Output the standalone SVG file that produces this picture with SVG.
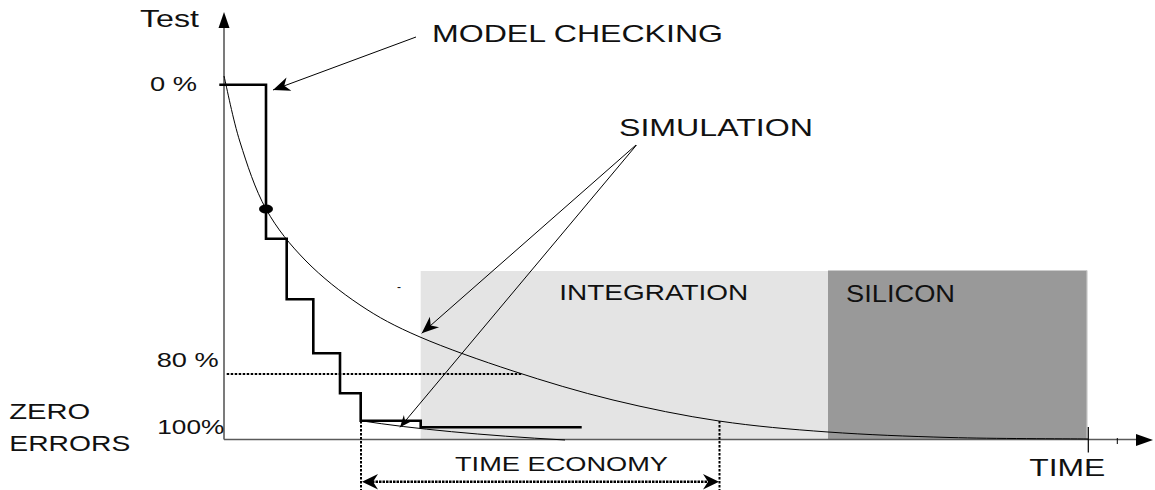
<svg xmlns="http://www.w3.org/2000/svg" width="1155" height="490" viewBox="0 0 1155 490">
<style>
text{font-family:"Liberation Sans",Arial,sans-serif;fill:#111;}
.lbl{font-size:23px;}
.pct{font-size:21px;}
.thin{fill:none;stroke:#000;stroke-width:1;}
.dot{fill:none;stroke:#000;stroke-width:2;stroke-dasharray:2.5,1.5;}
.axis{fill:none;stroke:#5a5a5a;stroke-width:1.6;}
</style>
<defs>
<marker id="barb" viewBox="-18 -8 20 16" markerWidth="20" markerHeight="16" refX="0" refY="0" orient="auto" markerUnits="userSpaceOnUse">
<path d="M0,0 L-17,-7 L-12,0 L-17,7 Z" fill="#000"/>
</marker>
<marker id="barbS" viewBox="-13 -6 15 12" markerWidth="15" markerHeight="12" refX="0" refY="0" orient="auto" markerUnits="userSpaceOnUse">
<path d="M0,0 L-12,-5 L-8,0 L-12,5 Z" fill="#000"/>
</marker>
</defs>
<rect width="1155" height="490" fill="#fff"/>

<g id="integration">
<rect x="420.7" y="271" width="407.3" height="168" fill="#e4e4e4"/>
<text class="lbl" x="559.3" y="300" font-size="22" textLength="189" lengthAdjust="spacingAndGlyphs" style="font-size:22px">INTEGRATION</text>
</g>
<g id="silicon">
<rect x="828" y="270.5" width="259" height="168.5" fill="#999999"/>
<line x1="1087" y1="270.5" x2="1087" y2="439" stroke="#c8c8c8" stroke-width="1.2"/>
<text class="lbl" x="846" y="301.7" textLength="109" lengthAdjust="spacingAndGlyphs">SILICON</text>
</g>

<g id="axes">
<line class="axis" x1="224" y1="27" x2="224" y2="439.5"/>
<polygon points="224,12 218.5,28 229.5,28" fill="#000"/>
<line class="axis" x1="224" y1="439.5" x2="1138" y2="439.5"/>
<polygon points="1153,440 1136,434 1136,446" fill="#000"/>
<line x1="1088.3" y1="427" x2="1088.3" y2="452.5" stroke="#000" stroke-width="1.2"/>
<line x1="1117.3" y1="438" x2="1117.3" y2="444" stroke="#000" stroke-width="1"/>
<text class="lbl" x="140" y="27" textLength="59" lengthAdjust="spacingAndGlyphs">Test</text>
<text class="lbl" x="1029.3" y="476" textLength="76" lengthAdjust="spacingAndGlyphs" style="font-size:24px">TIME</text>
<text class="pct" x="150" y="90.7" textLength="47" lengthAdjust="spacingAndGlyphs">0 %</text>
<text class="pct" x="156.7" y="366.7" textLength="62" lengthAdjust="spacingAndGlyphs">80 %</text>
<text class="pct" x="157.3" y="434" textLength="67" lengthAdjust="spacingAndGlyphs">100%</text>
<text class="lbl" x="9.3" y="419" textLength="81" lengthAdjust="spacingAndGlyphs" style="font-size:22px">ZERO</text>
<text class="lbl" x="9.3" y="450.7" textLength="121" lengthAdjust="spacingAndGlyphs" style="font-size:22px">ERRORS</text>
<text x="397" y="291" style="font-size:12px">-</text>
</g>

<g id="simulation-curve">
<path class="thin" stroke-width="1.2" d="M224,76 C226.7,87 233,119.8 240,142 C247,164.2 255,189.2 266,209 C277,228.8 290.3,245 306,261 C321.7,277 341,292.3 360,305 C379,317.7 394.5,326 420,337 C445.5,348 480.8,360.5 513,371 C545.2,381.5 578.7,391.7 613,400 C647.3,408.3 683.2,415.7 719,421 C754.8,426.3 789.5,429.25 828,432 C866.5,434.75 906.7,436.3 950,437.5 C993.3,438.7 1065,438.75 1088,439"/>
<path class="thin" stroke-width="1.2" d="M360.7,420.7 Q440,433 565,440"/>
</g>

<g id="model-checking-steps">
<path d="M219.3,84.7 H266 V238.7 H286.7 V299.3 H313.3 V353.3 H340 V393.3 H360.7 V420.7 H420.7 V427.3 H581.7" fill="none" stroke="#000" stroke-width="2.6"/>
<ellipse cx="266" cy="209" rx="7" ry="4.6" fill="#000"/>
</g>

<g id="labels">
<text class="lbl" x="432" y="41.7" textLength="291" lengthAdjust="spacingAndGlyphs" style="font-size:24px">MODEL CHECKING</text>
<text class="lbl" x="619" y="136" textLength="194" lengthAdjust="spacingAndGlyphs" style="font-size:24px">SIMULATION</text>
<text class="pct" x="455" y="470.7" textLength="213" lengthAdjust="spacingAndGlyphs">TIME ECONOMY</text>
</g>

<g id="connectors">
<line class="thin" x1="416" y1="37" x2="273" y2="90" marker-end="url(#barb)"/>
<line class="thin" x1="636" y1="145" x2="421.7" y2="333.3" marker-end="url(#barb)"/>
<line class="thin" x1="636.5" y1="145" x2="400" y2="427.3" marker-end="url(#barbS)"/>
<line class="dot" x1="226.7" y1="374" x2="521.7" y2="374"/>
<line class="dot" x1="361" y1="421" x2="361" y2="490"/>
<line class="dot" x1="719.5" y1="421" x2="719.5" y2="490"/>
<line x1="372" y1="481.7" x2="709" y2="481.7" stroke="#000" stroke-width="2.5" stroke-dasharray="2.5,1"/>
<polygon points="362,481.7 378,474 373,481.7 378,489.5" fill="#000"/>
<polygon points="719,481.7 703,474 708,481.7 703,489.5" fill="#000"/>
</g>
</svg>
